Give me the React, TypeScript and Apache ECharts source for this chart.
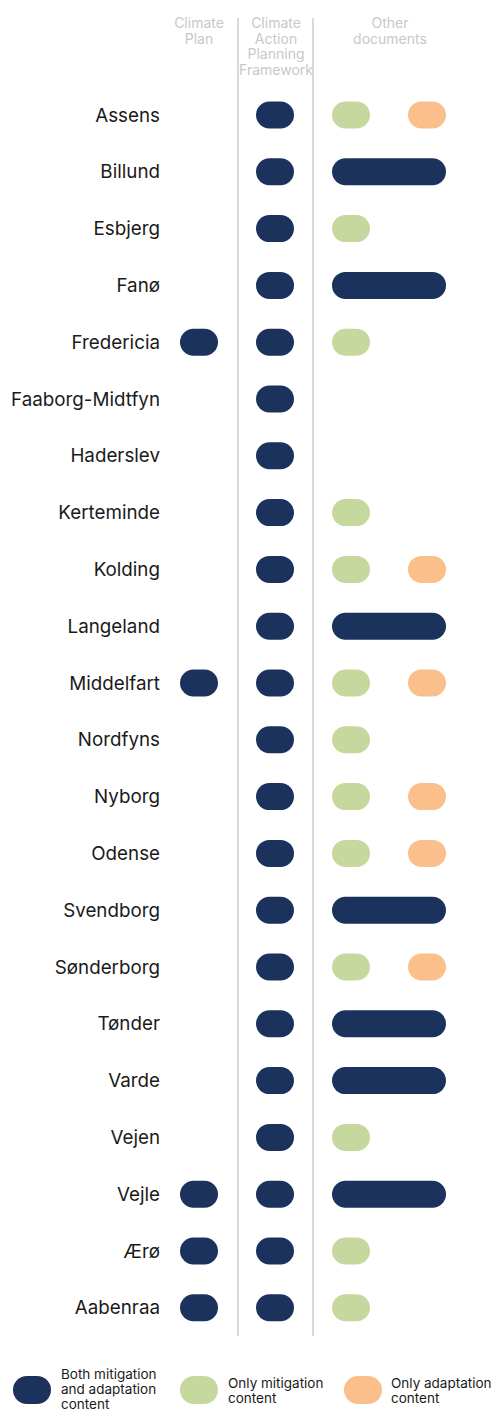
import React, { useEffect, useRef } from "react";
import * as echarts from "echarts";

const cities = [
  "Assens", "Billund", "Esbjerg", "Fanø", "Fredericia", "Faaborg-Midtfyn", "Haderslev",
  "Kerteminde", "Kolding", "Langeland", "Middelfart", "Nordfyns", "Nyborg", "Odense",
  "Svendborg", "Sønderborg", "Tønder", "Varde", "Vejen", "Vejle", "Ærø", "Aabenraa",
];
// 1 = has Climate Plan (both mitigation and adaptation)
const climatePlan = [0, 0, 0, 0, 1, 0, 0, 0, 0, 0, 1, 0, 0, 0, 0, 0, 0, 0, 0, 1, 1, 1];
// 1 = has Climate Action Planning Framework (both)
const capf = [1, 1, 1, 1, 1, 1, 1, 1, 1, 1, 1, 1, 1, 1, 1, 1, 1, 1, 1, 1, 1, 1];
// Other documents: "both" | "mit" | "mit+adapt" | "none"
const otherDocs = [
  "mit+adapt", "both", "mit", "both", "mit", "none", "none",
  "mit", "mit+adapt", "both", "mit+adapt", "mit", "mit+adapt", "mit+adapt",
  "both", "mit+adapt", "both", "both", "mit", "both", "mit", "mit",
];
const columnHeaders = ["Climate\nPlan", "Climate\nAction\nPlanning\nFramework", "Other\ndocuments"];
const legendLabels = [
  "Both mitigation\nand adaptation\ncontent",
  "Only mitigation\ncontent",
  "Only adaptation\ncontent",
];

const COLORS = { both: "#1b325d", mit: "#c6d89d", adapt: "#fbbf8b" };

function buildData() {
  const d: any[] = [];
  cities.forEach((_, i) => {
    if (climatePlan[i]) d.push([0, 0, i, "both"]);
    if (capf[i]) d.push([1, 1, i, "both"]);
    const o = otherDocs[i];
    if (o === "both") d.push([2, 3, i, "both"]);
    if (o === "mit" || o === "mit+adapt") d.push([2, 2, i, "mit"]);
    if (o === "mit+adapt") d.push([3, 3, i, "adapt"]);
  });
  return d;
}

export default function App() {
  const ref = useRef<HTMLDivElement>(null);
  useEffect(() => {
    const chart = echarts.init(ref.current!, null, { renderer: "svg" });
    const W = 38, H = 27;
    const data = buildData();
    const headerStyle = { fill: "#c8c8c8", fontSize: 14, fontFamily: "Inter", lineHeight: 15.5, align: "center" };
    const legendText = { fill: "#1a1a1a", fontSize: 13.5, fontFamily: "Inter", lineHeight: 15 };
    chart.setOption({
      animation: false,
      grid: { left: 199, right: 71, top: 86.6, height: 1249.6 },
      xAxis: { type: "value", min: 0, max: 3, show: false },
      yAxis: {
        type: "category",
        data: cities,
        inverse: true,
        axisLine: { show: false },
        axisTick: { show: false },
        splitLine: { show: false },
        axisLabel: { margin: 39, fontSize: 18.8, color: "#1a1a1a", fontFamily: "Inter" },
      },
      series: [
        {
          type: "custom",
          data,
          encode: { x: [0, 1], y: 2 },
          renderItem: (params: any, api: any) => {
            const s = api.coord([api.value(0), api.value(2)]);
            const e = api.coord([api.value(1), api.value(2)]);
            const item = data[params.dataIndex];
            return {
              type: "rect",
              shape: { x: s[0] - W / 2, y: s[1] - H / 2, width: e[0] - s[0] + W, height: H, r: H / 2 },
              style: { fill: (COLORS as any)[item[3]] },
            };
          },
        },
      ],
      graphic: [
        { type: "line", shape: { x1: 238, y1: 18, x2: 238, y2: 1336 }, style: { stroke: "#d9d9d9", lineWidth: 2 } },
        { type: "line", shape: { x1: 313, y1: 18, x2: 313, y2: 1336 }, style: { stroke: "#d9d9d9", lineWidth: 2 } },
        { type: "text", x: 199, y: 15, style: { ...headerStyle, text: columnHeaders[0] } },
        { type: "text", x: 276, y: 15, style: { ...headerStyle, text: columnHeaders[1] } },
        { type: "text", x: 390, y: 15, style: { ...headerStyle, text: columnHeaders[2] } },
        { type: "rect", shape: { x: 13, y: 1376, width: 38, height: 28, r: 14 }, style: { fill: COLORS.both } },
        { type: "text", x: 61, y: 1366, style: { ...legendText, text: legendLabels[0] } },
        { type: "rect", shape: { x: 180, y: 1376, width: 38, height: 28, r: 14 }, style: { fill: COLORS.mit } },
        { type: "text", x: 228, y: 1375, style: { ...legendText, text: legendLabels[1] } },
        { type: "rect", shape: { x: 344, y: 1376, width: 38, height: 28, r: 14 }, style: { fill: COLORS.adapt } },
        { type: "text", x: 391, y: 1375, style: { ...legendText, text: legendLabels[2] } },
      ],
    });
    return () => chart.dispose();
  }, []);
  return <div ref={ref} style={{ width: 498, height: 1409, position: "absolute", left: 0, top: 0 }} />;
}
